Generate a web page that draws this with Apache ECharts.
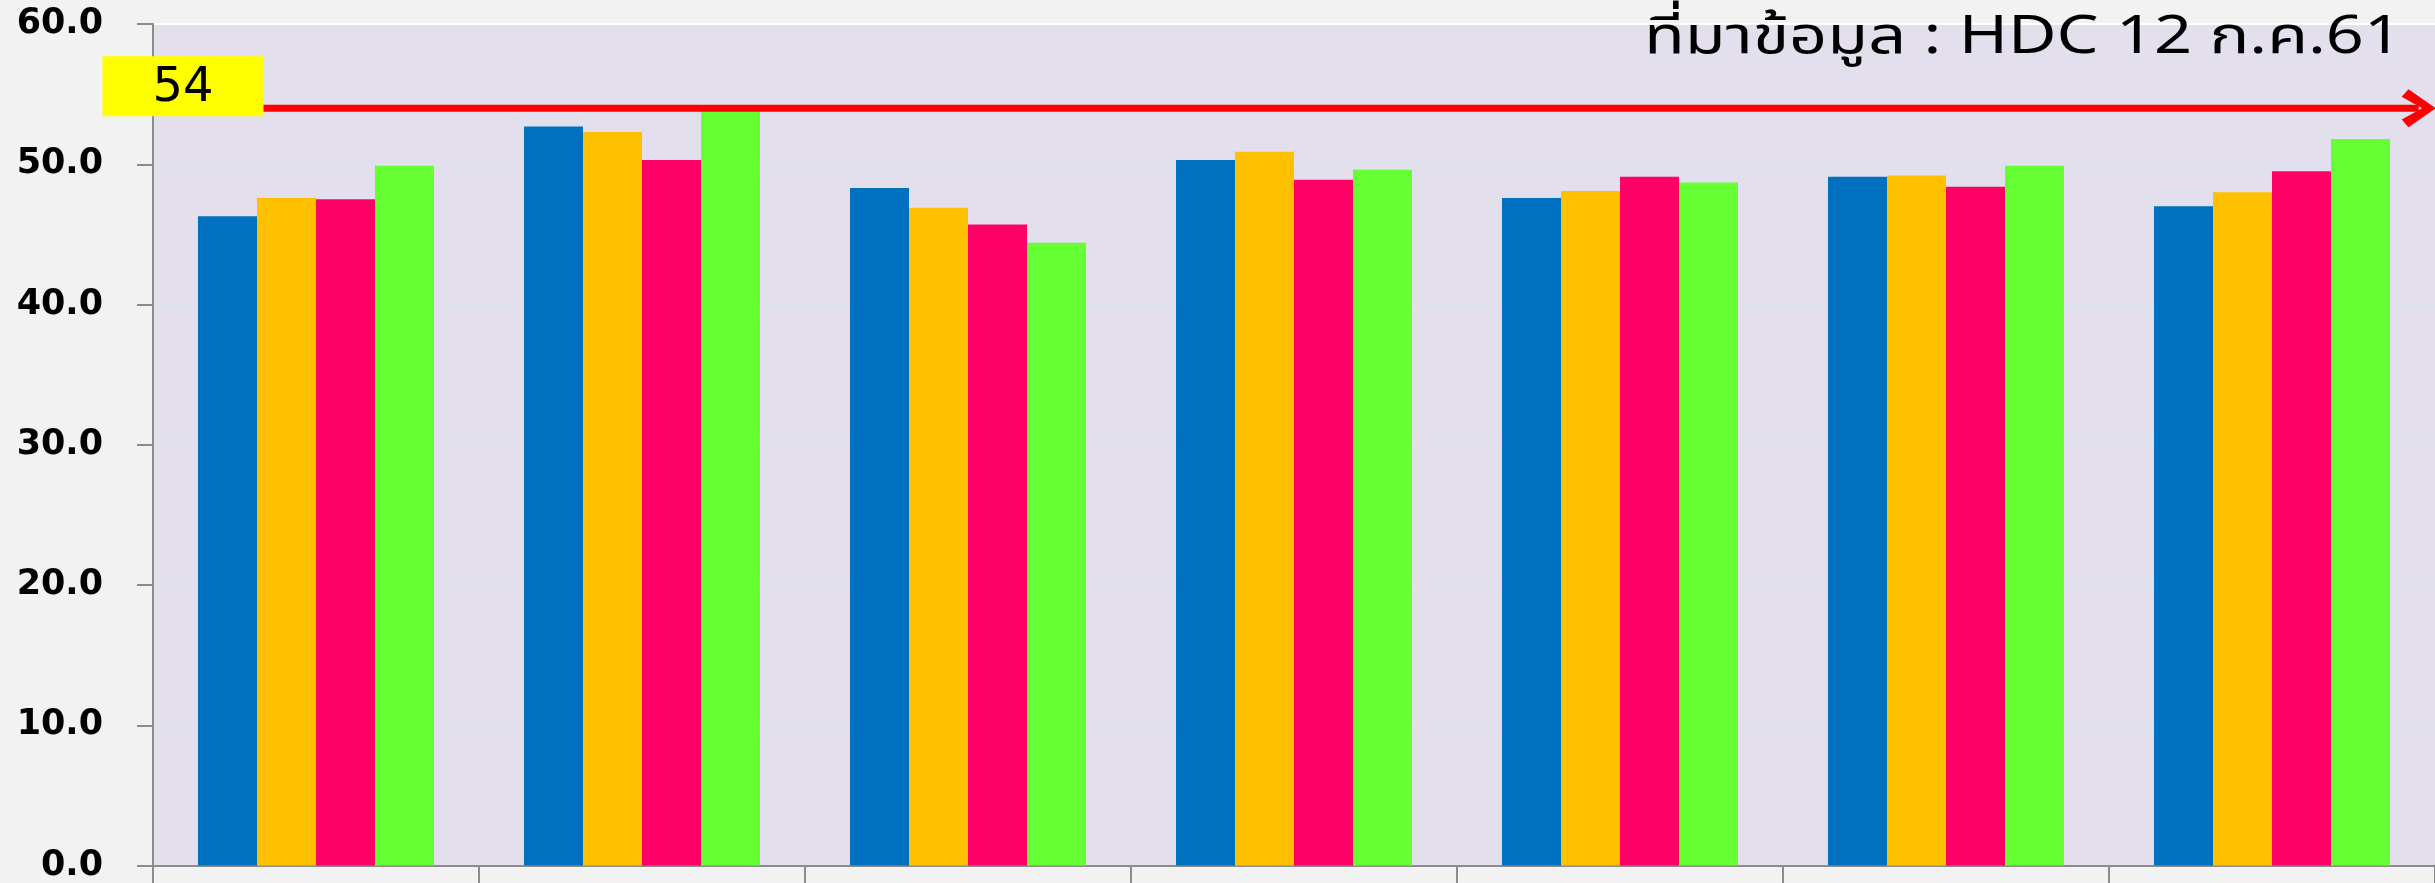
<!DOCTYPE html>
<html>
<head>
<meta charset="utf-8">
<style>
  html, body { margin: 0; padding: 0; background: #F2F2F2; }
  #chart { width: 2435px; height: 883px; }
</style>
<script src="https://cdn.jsdelivr.net/npm/echarts@6/dist/echarts.min.js"></script>
</head>
<body>
<div id="chart"></div>
<script>
// Groups along the x axis (their labels sit below the visible area)
const categories = ['พื้นที่ 1', 'พื้นที่ 2', 'พื้นที่ 3', 'พื้นที่ 4', 'พื้นที่ 5', 'พื้นที่ 6', 'พื้นที่ 7'];

// Four yearly series, one bar each per group (percent)
const seriesNames = ['ปี 2558', 'ปี 2559', 'ปี 2560', 'ปี 2561'];
const year1 = [46.3, 52.7, 48.3, 50.3, 47.6, 49.1, 47.0];
const year2 = [47.6, 52.3, 46.9, 50.9, 48.1, 49.2, 48.0];
const year3 = [47.5, 50.3, 45.7, 48.9, 49.1, 48.4, 49.5];
const year4 = [49.9, 54.1, 44.4, 49.6, 48.7, 49.9, 51.8];

// Target level drawn as the red arrow, with its value tag
const target = 54;

// Source note in the top right corner
const sourceNote = 'ที่มาข้อมูล : HDC 12 ก.ค.61';

// Y axis ticks
const yMin = 0, yMax = 60, yStep = 10;

const barColors = ['#0070C0', '#FFC000', '#FF0066', '#66FF33'];
const seriesValues = [year1, year2, year3, year4];

// Target arrow spans the plot in category-band units on a hidden value axis
const arrowStart = 0;
const arrowEnd = 6.95;

const chart = echarts.init(document.getElementById('chart'), null, { renderer: 'canvas' });

const barSeries = seriesValues.map((vals, i) => ({
  name: seriesNames[i],
  type: 'bar',
  xAxisIndex: 0,
  yAxisIndex: 0,
  data: vals,
  barGap: '0%',
  barCategoryGap: '27.6%',
  itemStyle: { color: barColors[i] },
  emphasis: { disabled: true },
  animation: false
}));

const targetSeries = {
  name: 'เป้าหมาย',
  type: 'line',
  xAxisIndex: 1,
  yAxisIndex: 0,
  data: [[arrowStart, target], [arrowEnd, target]],
  symbol: 'none',
  lineStyle: { color: '#FF0000', width: 7 },
  z: 4,
  animation: false,
  markPoint: {
    animation: false,
    data: [
      {
        // arrow head at the end of the target line
        coord: [arrowEnd, target],
        value: target,
        symbol: 'path://M0,20 L20,0 L100,50 L20,100 L0,80 L60,50 Z',
        symbolSize: [34, 38],
        symbolKeepAspect: false,
        itemStyle: { color: '#FF0000' },
        label: { show: false }
      },
      {
        // yellow value tag at the start of the line
        coord: [arrowStart, target],
        value: target,
        symbol: 'rect',
        symbolSize: [161, 60],
        symbolOffset: [30, -22],
        itemStyle: { color: '#FFFF00' },
        label: {
          show: true,
          position: 'inside',
          formatter: '{c}',
          color: '#000000',
          fontSize: 48,
          fontFamily: '"DejaVu Sans", Verdana, sans-serif',
          offset: [0, 2]
        }
      }
    ]
  }
};

const option = {
  backgroundColor: '#F2F2F2',
  animation: false,
  graphic: [
    {
      type: 'text',
      x: 2402,
      y: 42,
      scaleX: 1.28,
      z: 10,
      style: {
        text: sourceNote,
        x: 0,
        y: 0,
        align: 'right',
        verticalAlign: 'middle',
        fill: '#000000',
        font: 'normal 52px Tahoma, "Noto Sans Thai", "Noto Sans", sans-serif'
      }
    }
  ],
  grid: {
    left: 153,
    top: 24,
    width: 2294,
    height: 850,
    show: true,
    backgroundColor: '#E4DFEC',
    borderWidth: 0,
    containLabel: false
  },
  xAxis: [
    {
      type: 'category',
      data: categories,
      axisLine: { lineStyle: { color: '#8C8C8C', width: 2 } },
      axisTick: { show: true, length: 20, lineStyle: { color: '#8C8C8C', width: 2 } },
      axisLabel: { show: false },
      splitLine: { show: false }
    },
    {
      type: 'value',
      min: 0,
      max: categories.length,
      show: false,
      splitLine: { show: false }
    }
  ],
  yAxis: {
    type: 'value',
    min: yMin,
    max: yMax,
    interval: yStep,
    axisLine: { show: true, lineStyle: { color: '#8C8C8C', width: 2 } },
    axisTick: { show: true, length: 16, lineStyle: { color: '#8C8C8C', width: 2 } },
    axisLabel: {
      margin: 50,
      formatter: v => v.toFixed(1),
      color: '#000000',
      fontSize: 35,
      fontWeight: 'bold',
      fontFamily: '"DejaVu Sans", Verdana, sans-serif'
    },
    splitLine: {
      show: true,
      lineStyle: {
        width: 2,
        color: ['#DCE3F1', '#DCE3F1', '#DCE3F1', '#DCE3F1', '#DCE3F1', '#DCE3F1', '#FFFFFF']
      }
    }
  },
  series: [...barSeries, targetSeries]
};

chart.setOption(option);
</script>
</body>
</html>
